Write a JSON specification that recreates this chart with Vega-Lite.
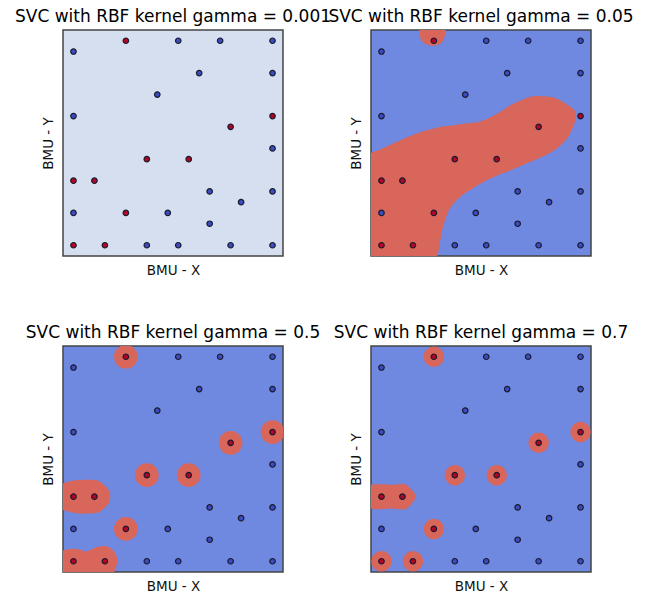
{
  "$schema": "https://vega.github.io/schema/vega-lite/v6.json",
  "padding": {"left": 14, "top": 7, "right": 5, "bottom": 2},
  "background": "white",
  "config": {
    "font": "DejaVu Sans",
    "title": {"fontSize": 17, "fontWeight": "normal", "color": "#000000", "offset": 4, "font": "DejaVu Sans"},
    "axis": {"labels": false, "ticks": false, "domain": false, "grid": false, "titleFontSize": 13.5, "titleFontWeight": "normal", "titleColor": "#111111", "titleFont": "DejaVu Sans"},
    "axisX": {"titlePadding": 7},
    "axisY": {"titlePadding": 8},
    "view": {"stroke": "#444444", "strokeWidth": 1.5}
  },
  "datasets": {
    "points": [
      {"x": 5, "y": 19, "c": "red"}, {"x": 10, "y": 19, "c": "blue"}, {"x": 14, "y": 19, "c": "blue"}, {"x": 19, "y": 19, "c": "blue"},
      {"x": 0, "y": 18, "c": "blue"},
      {"x": 12, "y": 16, "c": "blue"}, {"x": 19, "y": 16, "c": "blue"},
      {"x": 8, "y": 14, "c": "blue"},
      {"x": 0, "y": 12, "c": "blue"}, {"x": 19, "y": 12, "c": "red"},
      {"x": 15, "y": 11, "c": "red"},
      {"x": 19, "y": 9, "c": "blue"},
      {"x": 7, "y": 8, "c": "red"}, {"x": 11, "y": 8, "c": "red"},
      {"x": 0, "y": 6, "c": "red"}, {"x": 2, "y": 6, "c": "red"},
      {"x": 13, "y": 5, "c": "blue"}, {"x": 19, "y": 5, "c": "blue"},
      {"x": 16, "y": 4, "c": "blue"},
      {"x": 0, "y": 3, "c": "blue"}, {"x": 5, "y": 3, "c": "red"}, {"x": 9, "y": 3, "c": "blue"},
      {"x": 13, "y": 2, "c": "blue"},
      {"x": 0, "y": 0, "c": "red"}, {"x": 3, "y": 0, "c": "red"}, {"x": 7, "y": 0, "c": "blue"}, {"x": 10, "y": 0, "c": "blue"}, {"x": 15, "y": 0, "c": "blue"}, {"x": 19, "y": 0, "c": "blue"}
    ],
    "circles": [
      {"p": 3, "x": 5, "y": 19}, {"p": 3, "x": 19, "y": 12}, {"p": 3, "x": 15, "y": 11}, {"p": 3, "x": 7, "y": 8}, {"p": 3, "x": 11, "y": 8}, {"p": 3, "x": 5, "y": 3},
      {"p": 4, "x": 5, "y": 19}, {"p": 4, "x": 19, "y": 12}, {"p": 4, "x": 15, "y": 11}, {"p": 4, "x": 7, "y": 8}, {"p": 4, "x": 11, "y": 8}, {"p": 4, "x": 5, "y": 3}, {"p": 4, "x": 0, "y": 0}, {"p": 4, "x": 3, "y": 0}
    ],
    "regions": [
      {"p": 2, "b": "m2", "x": -1.3, "lo": -1.5, "hi": 8.5},
      {"p": 2, "b": "m2", "x": -1, "lo": -1.5, "hi": 8.6},
      {"p": 2, "b": "m2", "x": 0, "lo": -1.5, "hi": 8.95},
      {"p": 2, "b": "m2", "x": 1, "lo": -1.5, "hi": 9.4},
      {"p": 2, "b": "m2", "x": 2, "lo": -1.5, "hi": 9.85},
      {"p": 2, "b": "m2", "x": 3, "lo": -1.5, "hi": 10.25},
      {"p": 2, "b": "m2", "x": 4, "lo": -1.5, "hi": 10.6},
      {"p": 2, "b": "m2", "x": 5, "lo": -1.5, "hi": 10.85},
      {"p": 2, "b": "m2", "x": 5.34, "lo": -1.0, "hi": 10.95},
      {"p": 2, "b": "m2", "x": 5.76, "lo": 1.23, "hi": 11.02},
      {"p": 2, "b": "m2", "x": 6.23, "lo": 2.78, "hi": 11.08},
      {"p": 2, "b": "m2", "x": 6.87, "lo": 3.87, "hi": 11.15},
      {"p": 2, "b": "m2", "x": 7.5, "lo": 4.49, "hi": 11.25},
      {"p": 2, "b": "m2", "x": 8.5, "lo": 5.15, "hi": 11.35},
      {"p": 2, "b": "m2", "x": 9.7, "lo": 5.85, "hi": 11.6},
      {"p": 2, "b": "m2", "x": 11.0, "lo": 6.45, "hi": 12.2},
      {"p": 2, "b": "m2", "x": 12.3, "lo": 6.95, "hi": 13.0},
      {"p": 2, "b": "m2", "x": 13.5, "lo": 7.45, "hi": 13.55},
      {"p": 2, "b": "m2", "x": 14.8, "lo": 8.0, "hi": 13.86},
      {"p": 2, "b": "m2", "x": 16.1, "lo": 8.6, "hi": 13.8},
      {"p": 2, "b": "m2", "x": 17.1, "lo": 9.3, "hi": 13.45},
      {"p": 2, "b": "m2", "x": 17.9, "lo": 10.2, "hi": 12.95},
      {"p": 2, "b": "m2", "x": 18.3, "lo": 11.0, "hi": 12.65},
      {"p": 2, "b": "m2", "x": 18.5, "lo": 11.6, "hi": 12.4},
      {"p": 2, "b": "m2", "x": 18.6, "lo": 12.05, "hi": 12.05},
      {"p": 2, "b": "t2", "x": 3.55, "lo": 20.2, "hi": 20.5},
      {"p": 2, "b": "t2", "x": 3.7, "lo": 19.3, "hi": 20.5},
      {"p": 2, "b": "t2", "x": 4.0, "lo": 18.85, "hi": 20.5},
      {"p": 2, "b": "t2", "x": 4.5, "lo": 18.6, "hi": 20.5},
      {"p": 2, "b": "t2", "x": 4.9, "lo": 18.54, "hi": 20.5},
      {"p": 2, "b": "t2", "x": 5.4, "lo": 18.62, "hi": 20.5},
      {"p": 2, "b": "t2", "x": 5.8, "lo": 18.9, "hi": 20.5},
      {"p": 2, "b": "t2", "x": 6.05, "lo": 19.5, "hi": 20.5},
      {"p": 2, "b": "t2", "x": 6.15, "lo": 20.2, "hi": 20.5},
      {"p": 3, "b": "a3", "x": -1.2, "lo": 4.8, "hi": 7.2},
      {"p": 3, "b": "a3", "x": -1, "lo": 4.75, "hi": 7.25},
      {"p": 3, "b": "a3", "x": 0, "lo": 4.5, "hi": 7.5},
      {"p": 3, "b": "a3", "x": 1, "lo": 4.42, "hi": 7.58},
      {"p": 3, "b": "a3", "x": 2, "lo": 4.45, "hi": 7.55},
      {"p": 3, "b": "a3", "x": 2.8, "lo": 4.8, "hi": 7.2},
      {"p": 3, "b": "a3", "x": 3.2, "lo": 5.2, "hi": 6.8},
      {"p": 3, "b": "a3", "x": 3.45, "lo": 5.6, "hi": 6.4},
      {"p": 3, "b": "a3", "x": 3.52, "lo": 6.0, "hi": 6.0},
      {"p": 3, "b": "b3", "x": -1.2, "lo": -1.5, "hi": 0.95},
      {"p": 3, "b": "b3", "x": -1, "lo": -1.5, "hi": 1.0},
      {"p": 3, "b": "b3", "x": -0.5, "lo": -1.5, "hi": 1.12},
      {"p": 3, "b": "b3", "x": 0, "lo": -1.5, "hi": 1.17},
      {"p": 3, "b": "b3", "x": 0.6, "lo": -1.5, "hi": 1.1},
      {"p": 3, "b": "b3", "x": 1.2, "lo": -1.5, "hi": 0.92},
      {"p": 3, "b": "b3", "x": 1.7, "lo": -1.5, "hi": 1.1},
      {"p": 3, "b": "b3", "x": 2.3, "lo": -1.5, "hi": 1.35},
      {"p": 3, "b": "b3", "x": 3.0, "lo": -1.5, "hi": 1.42},
      {"p": 3, "b": "b3", "x": 3.6, "lo": -1.5, "hi": 1.15},
      {"p": 3, "b": "b3", "x": 4.0, "lo": -0.7, "hi": 0.7},
      {"p": 3, "b": "b3", "x": 4.25, "lo": 0, "hi": 0},
      {"p": 4, "b": "a4", "x": -1.2, "lo": 4.95, "hi": 7.05},
      {"p": 4, "b": "a4", "x": -1, "lo": 4.9, "hi": 7.1},
      {"p": 4, "b": "a4", "x": -0.5, "lo": 4.84, "hi": 7.16},
      {"p": 4, "b": "a4", "x": 0, "lo": 4.84, "hi": 7.16},
      {"p": 4, "b": "a4", "x": 1, "lo": 4.9, "hi": 7.1},
      {"p": 4, "b": "a4", "x": 2, "lo": 4.8, "hi": 7.2},
      {"p": 4, "b": "a4", "x": 2.6, "lo": 5.05, "hi": 6.95},
      {"p": 4, "b": "a4", "x": 3.0, "lo": 5.5, "hi": 6.5},
      {"p": 4, "b": "a4", "x": 3.2, "lo": 5.8, "hi": 6.2},
      {"p": 4, "b": "a4", "x": 3.26, "lo": 6.0, "hi": 6.0}
    ]
  },
  "columns": 2,
  "bounds": "flush",
  "spacing": {"row": 90, "column": 88},
  "concat": [
    {
      "title": "SVC with RBF kernel gamma = 0.001",
      "width": 220, "height": 226,
      "view": {"fill": "#d5dff0"},
      "layer": [
        {
          "data": {"name": "points"},
          "mark": {"type": "point", "filled": true, "size": 30, "stroke": "#1b1b2e", "strokeWidth": 1.2, "opacity": 1},
          "encoding": {
            "x": {"field": "x", "type": "quantitative", "scale": {"domain": [-1, 20], "nice": false, "zero": false}, "axis": {"title": "BMU - X"}},
            "y": {"field": "y", "type": "quantitative", "scale": {"domain": [-1, 20], "nice": false, "zero": false}, "axis": {"title": "BMU - Y"}},
            "color": {"field": "c", "type": "nominal", "scale": {"domain": ["blue", "red"], "range": ["#3b4cc0", "#b40426"]}, "legend": null}
          }
        }
      ]
    },
    {
      "title": "SVC with RBF kernel gamma = 0.05",
      "width": 220, "height": 226,
      "view": {"fill": "#7089e0"},
      "layer": [
        {
          "data": {"name": "regions"},
          "transform": [{"filter": "datum.p == 2"}],
          "mark": {"type": "area", "color": "#d8665a", "opacity": 1, "interpolate": "monotone", "clip": true, "orient": "vertical"},
          "encoding": {
            "x": {"field": "x", "type": "quantitative", "scale": {"domain": [-1, 20], "nice": false, "zero": false}, "axis": {"title": "BMU - X"}},
            "y": {"field": "lo", "type": "quantitative", "scale": {"domain": [-1, 20], "nice": false, "zero": false}, "axis": {"title": "BMU - Y"}},
            "y2": {"field": "hi"},
            "detail": {"field": "b", "type": "nominal"}
          }
        },
        {
          "data": {"name": "points"},
          "mark": {"type": "point", "filled": true, "size": 30, "stroke": "#1b1b2e", "strokeWidth": 1.2, "opacity": 1},
          "encoding": {
            "x": {"field": "x", "type": "quantitative", "scale": {"domain": [-1, 20], "nice": false, "zero": false}, "axis": {"title": "BMU - X"}},
            "y": {"field": "y", "type": "quantitative", "scale": {"domain": [-1, 20], "nice": false, "zero": false}, "axis": {"title": "BMU - Y"}},
            "color": {"field": "c", "type": "nominal", "scale": {"domain": ["blue", "red"], "range": ["#3b4cc0", "#b40426"]}, "legend": null}
          }
        }
      ]
    },
    {
      "title": "SVC with RBF kernel gamma = 0.5",
      "width": 220, "height": 226,
      "view": {"fill": "#7089e0"},
      "layer": [
        {
          "data": {"name": "circles"},
          "transform": [{"filter": "datum.p == 3"}],
          "mark": {"type": "circle", "size": 560, "color": "#d8665a", "opacity": 1, "clip": true},
          "encoding": {
            "x": {"field": "x", "type": "quantitative", "scale": {"domain": [-1, 20], "nice": false, "zero": false}, "axis": {"title": "BMU - X"}},
            "y": {"field": "y", "type": "quantitative", "scale": {"domain": [-1, 20], "nice": false, "zero": false}, "axis": {"title": "BMU - Y"}}
          }
        },
        {
          "data": {"name": "regions"},
          "transform": [{"filter": "datum.p == 3"}],
          "mark": {"type": "area", "color": "#d8665a", "opacity": 1, "interpolate": "monotone", "clip": true, "orient": "vertical"},
          "encoding": {
            "x": {"field": "x", "type": "quantitative", "scale": {"domain": [-1, 20], "nice": false, "zero": false}, "axis": {"title": "BMU - X"}},
            "y": {"field": "lo", "type": "quantitative", "scale": {"domain": [-1, 20], "nice": false, "zero": false}, "axis": {"title": "BMU - Y"}},
            "y2": {"field": "hi"},
            "detail": {"field": "b", "type": "nominal"}
          }
        },
        {
          "data": {"name": "points"},
          "mark": {"type": "point", "filled": true, "size": 30, "stroke": "#1b1b2e", "strokeWidth": 1.2, "opacity": 1},
          "encoding": {
            "x": {"field": "x", "type": "quantitative", "scale": {"domain": [-1, 20], "nice": false, "zero": false}, "axis": {"title": "BMU - X"}},
            "y": {"field": "y", "type": "quantitative", "scale": {"domain": [-1, 20], "nice": false, "zero": false}, "axis": {"title": "BMU - Y"}},
            "color": {"field": "c", "type": "nominal", "scale": {"domain": ["blue", "red"], "range": ["#3b4cc0", "#b40426"]}, "legend": null}
          }
        }
      ]
    },
    {
      "title": "SVC with RBF kernel gamma = 0.7",
      "width": 220, "height": 226,
      "view": {"fill": "#7089e0"},
      "layer": [
        {
          "data": {"name": "circles"},
          "transform": [{"filter": "datum.p == 4"}],
          "mark": {"type": "circle", "size": 420, "color": "#d8665a", "opacity": 1, "clip": true},
          "encoding": {
            "x": {"field": "x", "type": "quantitative", "scale": {"domain": [-1, 20], "nice": false, "zero": false}, "axis": {"title": "BMU - X"}},
            "y": {"field": "y", "type": "quantitative", "scale": {"domain": [-1, 20], "nice": false, "zero": false}, "axis": {"title": "BMU - Y"}}
          }
        },
        {
          "data": {"name": "regions"},
          "transform": [{"filter": "datum.p == 4"}],
          "mark": {"type": "area", "color": "#d8665a", "opacity": 1, "interpolate": "monotone", "clip": true, "orient": "vertical"},
          "encoding": {
            "x": {"field": "x", "type": "quantitative", "scale": {"domain": [-1, 20], "nice": false, "zero": false}, "axis": {"title": "BMU - X"}},
            "y": {"field": "lo", "type": "quantitative", "scale": {"domain": [-1, 20], "nice": false, "zero": false}, "axis": {"title": "BMU - Y"}},
            "y2": {"field": "hi"},
            "detail": {"field": "b", "type": "nominal"}
          }
        },
        {
          "data": {"name": "points"},
          "mark": {"type": "point", "filled": true, "size": 30, "stroke": "#1b1b2e", "strokeWidth": 1.2, "opacity": 1},
          "encoding": {
            "x": {"field": "x", "type": "quantitative", "scale": {"domain": [-1, 20], "nice": false, "zero": false}, "axis": {"title": "BMU - X"}},
            "y": {"field": "y", "type": "quantitative", "scale": {"domain": [-1, 20], "nice": false, "zero": false}, "axis": {"title": "BMU - Y"}},
            "color": {"field": "c", "type": "nominal", "scale": {"domain": ["blue", "red"], "range": ["#3b4cc0", "#b40426"]}, "legend": null}
          }
        }
      ]
    }
  ]
}
